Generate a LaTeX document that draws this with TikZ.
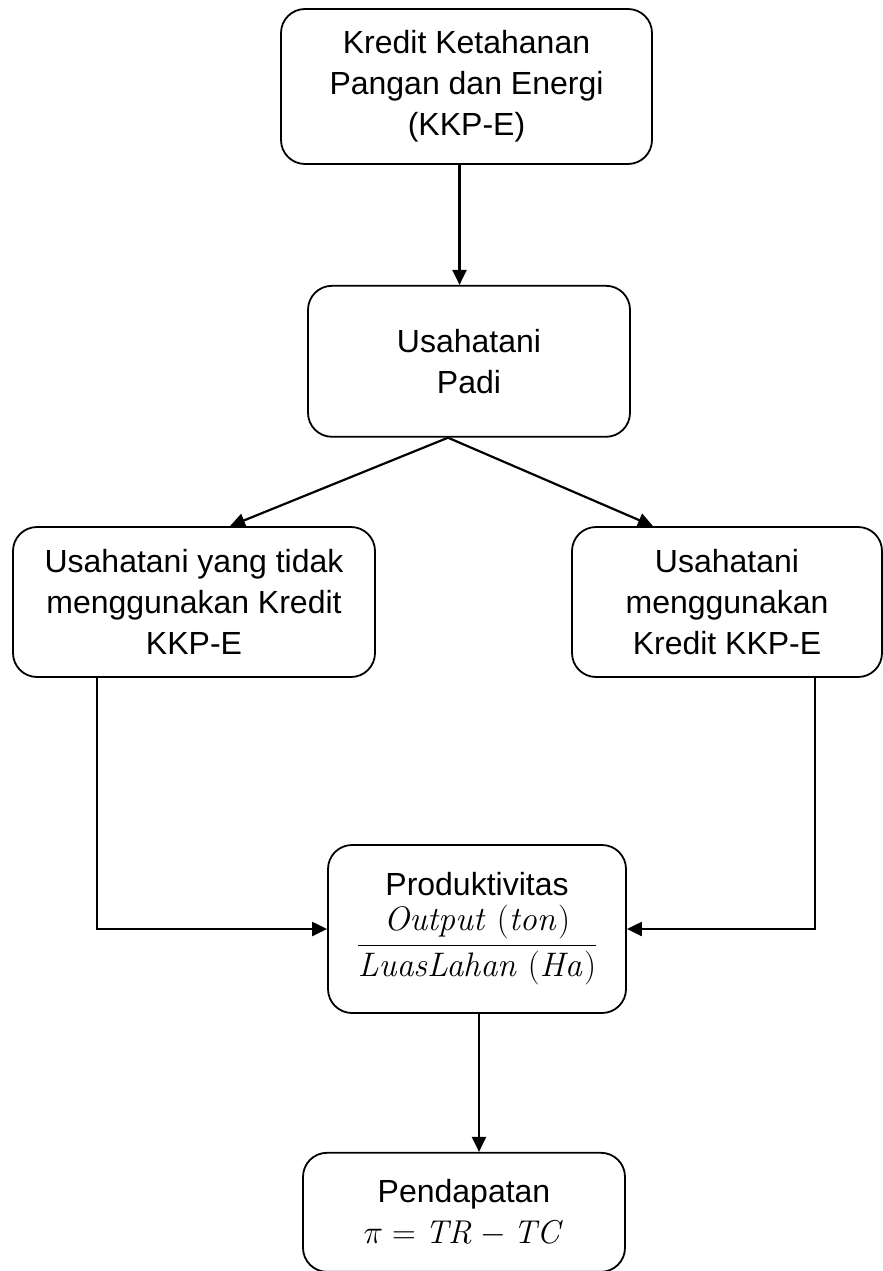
\RequirePackage{fix-cm}
\documentclass[tikz,border=0pt]{standalone}
\usepackage{amsmath}
\usepackage[no-math]{fontspec}
\setmainfont{Liberation Sans}
\usepackage{tikz}
\usetikzlibrary{arrows.meta,positioning}

\begin{document}
\begin{tikzpicture}[
    x=1pt, y=-1pt,
    box/.style={
        rectangle,
        draw=black,
        line width=1.8pt,
        rounded corners=24pt,
        align=center,
        inner sep=0pt,
        font=\fontsize{32}{41}\selectfont
    },
    arrow/.style={-{Triangle[length=15pt,width=14pt]}, line width=2.2pt}
]
\useasboundingbox (0,0) rectangle (883,1271);

% Sumber kredit
\node[box, minimum width=371pt, minimum height=155pt] (kkpe) at (466.5,86.5) {Kredit Ketahanan\\Pangan dan Energi\\(KKP-E)};

% Usahatani
\node[box, minimum width=322pt, minimum height=151pt, below=120pt of kkpe, xshift=2.5pt] (padi) {Usahatani\\Padi};
\node[box, minimum width=362pt, minimum height=150pt] (tanpa) at (194,602) {Usahatani yang tidak\\menggunakan Kredit\\KKP-E};
\node[box, minimum width=310pt, minimum height=150pt] (dengan) at (727,602) {Usahatani\\menggunakan\\Kredit KKP-E};

% Produktivitas dan Pendapatan
\node[box, minimum width=298pt, minimum height=168pt] (prod) at (477,929) {Produktivitas\\[8pt]{\fontsize{34}{41}\selectfont$\dfrac{\mathit{Output}\;(\mathit{ton})}{\mathit{LuasLahan}\;(\mathit{Ha})}$}};
\node[box, minimum width=322pt, minimum height=119pt, below=138pt of prod, xshift=-13pt] (pend) {Pendapatan\\{\fontsize{33}{41}\selectfont$\pi = \mathit{TR} - \mathit{TC}$}};

% Arrows
\draw[arrow] ([xshift=-7pt]kkpe.south) -- ([xshift=-7pt]kkpe.south |- padi.north);
\draw[arrow] ([xshift=-21pt]padi.south) -- ([xshift=36pt]tanpa.north);
\draw[arrow] ([xshift=-21pt]padi.south) -- ([xshift=-74pt]dengan.north);
\draw[arrow] ([xshift=-97pt]tanpa.south) |- (prod.west);
\draw[arrow] ([xshift=88pt]dengan.south) |- (prod.east);
\draw[arrow] ([xshift=2pt]prod.south) -- ([xshift=2pt]prod.south |- pend.north);

\end{tikzpicture}
\end{document}
